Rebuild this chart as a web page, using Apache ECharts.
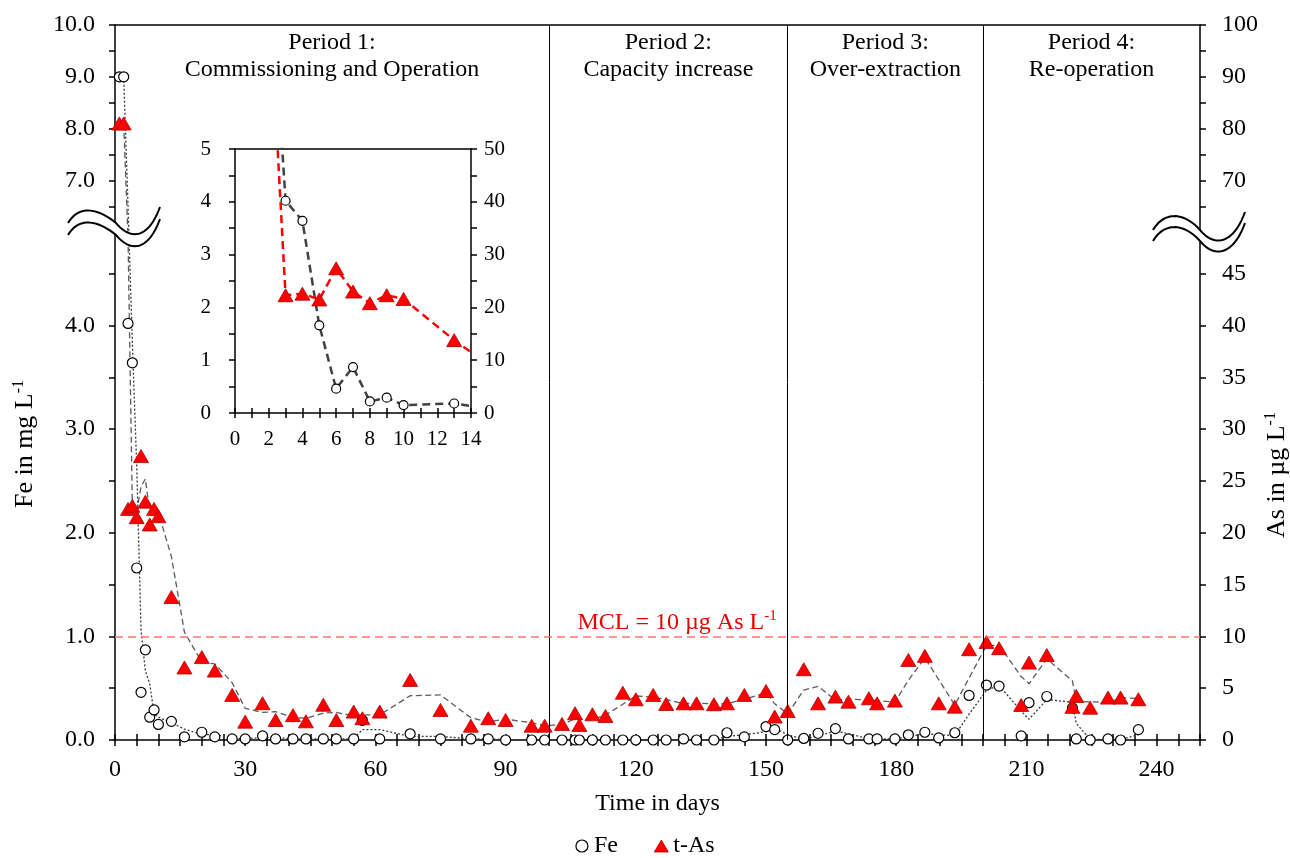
<!DOCTYPE html>
<html><head><meta charset="utf-8">
<script src="https://cdn.jsdelivr.net/npm/echarts@6/dist/echarts.min.js"></script>
<style>html,body{margin:0;padding:0;background:#fff}#c{width:1290px;height:858px}</style>
</head><body><div id="c"></div>
<script>
// ---------------- DATA ----------------
const days = [1, 2, 3, 4, 5, 6, 7, 8, 9, 10, 13, 16, 20, 23, 27, 30, 34, 37, 41, 44, 48, 51, 55, 57, 61, 68, 75, 82, 86, 90,
  96, 99, 103, 106, 107, 110, 113, 117, 120, 124, 127, 131, 134, 138, 141, 145, 150, 152, 155, 158.7,
  162, 166, 169, 173.7, 175.6, 179.7, 182.8, 186.6, 189.8, 193.5, 196.8, 200.8, 203.7, 208.8, 210.6, 214.7,
  220.6, 221.5, 224.7, 228.8, 231.7, 235.8];
const fe = [9.0, 9.0, 4.02, 3.64, 1.66, 0.46, 0.87, 0.22, 0.29, 0.15, 0.18, 0.03, 0.075, 0.03, 0.01, 0.01, 0.04, 0.01, 0.01, 0.01, 0.01, 0.01, 0.01, 0.19, 0.01, 0.06, 0.01, 0.01, 0.01, 0.0,
  0.0, 0.0, 0.0, 0.0, 0.0, 0.0, 0.0, 0.0, 0.0, 0.0, 0.0, 0.01, 0.0, 0.0, 0.07, 0.03, 0.13, 0.10, 0.0, 0.015,
  0.065, 0.11, 0.01, 0.01, 0.01, 0.01, 0.05, 0.075, 0.02, 0.07, 0.43, 0.53, 0.52, 0.04, 0.36, 0.42,
  0.31, 0.01, 0.0, 0.01, 0.0, 0.10];
const tAs = [81, 81, 22.3, 22.6, 21.5, 27.4, 23.0, 20.8, 22.3, 21.6, 13.8, 7.0, 8.0, 6.7, 4.35, 1.77, 3.55, 1.93, 2.4, 1.8, 3.4, 1.93, 2.74, 2.1, 2.74, 5.8, 2.9, 1.38, 2.1, 1.93,
  1.38, 1.38, 1.55, 2.58, 1.45, 2.48, 2.32, 4.57, 3.93, 4.35, 3.48, 3.54, 3.54, 3.45, 3.54, 4.35, 4.73, 2.26, 2.8, 6.83,
  3.54, 4.19, 3.7, 4.03, 3.54, 3.8, 7.73, 8.12, 3.54, 3.22, 8.76, 9.45, 8.86, 3.38, 7.47, 8.2,
  3.2, 4.25, 3.12, 4.09, 4.09, 3.93];
const xTickLabels = [0, 30, 60, 90, 120, 150, 180, 210, 240];
const feTickLabels = [0, 1, 2, 3, 4, 7, 8, 9, 10];
const asTickLabels = [0, 5, 10, 15, 20, 25, 30, 35, 40, 45, 70, 80, 90, 100];
const insetXTickLabels = [0, 2, 4, 6, 8, 10, 12, 14];
const insetFeTickLabels = [0, 1, 2, 3, 4, 5];
const insetAsTickLabels = [0, 10, 20, 30, 40, 50];
const periodNames = ['Period 1:\nCommissioning and Operation', 'Period 2:\nCapacity increase', 'Period 3:\nOver-extraction', 'Period 4:\nRe-operation'];
const periodStarts = [0, 100, 155, 200];
const periodEnds = [100, 155, 200, 250];
const MCL = 10;

// ---------------- HELPERS ----------------
const FONT = "'Liberation Serif','Times New Roman',serif";
// broken value axis: lower part linear, upper part compressed by factor 2
const BRK_LO = 4.8, BRK_HI = 6.2, BRK_TOP = 5.0, UP_K = 0.5;
function fwd(v) {
  if (v <= BRK_LO) return v;
  if (v >= BRK_HI) return BRK_TOP + UP_K * (v - BRK_HI);
  return BRK_LO + (v - BRK_LO) * (BRK_TOP - BRK_LO) / (BRK_HI - BRK_LO);
}
function inv(d) {
  if (d <= BRK_LO + 1e-9) return d;
  if (d >= BRK_TOP - 1e-9) return BRK_HI + (d - BRK_TOP) / UP_K;
  return BRK_LO + (d - BRK_LO) * (BRK_HI - BRK_LO) / (BRK_TOP - BRK_LO);
}
const D_MAX = fwd(10);
function range(a, b, s) { const r = []; for (let v = a; v <= b + 1e-9; v += s) r.push(Math.round(v * 1000) / 1000); return r; }
// Excel-style 2-period moving average trendline
function ma2(vals) { const out = []; for (let i = 1; i < vals.length; i++) out.push([days[i], (vals[i] + vals[i - 1]) / 2]); return out; }

const feTicks = range(0, 4.5, 0.5).concat(range(6.5, 10, 0.5)).map(fwd);
const asTicks = range(0, 45, 5).concat(range(65, 100, 5)).map(a => fwd(a / 10));

const axisLineStyle = { color: '#000', width: 1.5 };
const lblStyle = { fontSize: 24, fontFamily: FONT, color: '#000' };
const insetLbl = { fontSize: 21, fontFamily: FONT, color: '#000' };

// break symbol
function bez(p0, p1, p2, p3, n) {
  const pts = [];
  for (let i = 0; i <= n; i++) {
    const t = i / n, u = 1 - t;
    pts.push([u*u*u*p0[0] + 3*u*u*t*p1[0] + 3*u*t*t*p2[0] + t*t*t*p3[0],
              u*u*u*p0[1] + 3*u*u*t*p1[1] + 3*u*t*t*p2[1] + t*t*t*p3[1]]);
  }
  return pts;
}
function wave(segs, dy) {
  let pts = [];
  segs.forEach((s, k) => { const p = bez(...s.map(q => [q[0], q[1] + dy]), 24); pts = pts.concat(k ? p.slice(1) : p); });
  return pts;
}
function breakMark(segs, gap) {
  const up = wave(segs, 0), lo = wave(segs, gap);
  return [
    { type: 'polygon', shape: { points: up.concat(lo.slice().reverse()) }, style: { fill: '#fff', stroke: '#fff', lineWidth: 1 }, z: 100, silent: true },
    { type: 'polyline', shape: { points: up }, style: { stroke: '#000', lineWidth: 2, fill: 'none' }, z: 101, silent: true },
    { type: 'polyline', shape: { points: lo }, style: { stroke: '#000', lineWidth: 2, fill: 'none' }, z: 101, silent: true }
  ];
}
const leftBreak = breakMark([[[68, 223], [80, 203], [100, 210], [116, 223]], [[116, 223], [130, 240], [148, 240], [160, 207]]], 12);
const rightBreak = breakMark([[[1153, 230], [1165, 210], [1185, 213], [1200, 230]], [[1200, 230], [1214, 247], [1233, 245], [1245, 212]]], 11);

const supRich = (size, sup, color) => ({
  a: { fontSize: size, fontFamily: FONT, fill: color, color: color },
  s: { fontSize: sup, fontFamily: FONT, fill: color, color: color, padding: [0, 0, Math.round(size * 0.5), 0] }
});

const chart = echarts.init(document.getElementById('c'), null, { renderer: 'canvas' });
chart.setOption({
  animation: false,
  backgroundColor: '#fff',
  grid: [
    { left: 115, right: 90, top: 25, bottom: 118 },
    { left: 235, top: 149, width: 236, height: 264 }
  ],
  legend: {
    left: 'center', top: 829, itemGap: 36, itemWidth: 14, itemHeight: 12,
    textStyle: { fontSize: 24, fontFamily: FONT, color: '#000' },
    data: [
      { name: 'Fe', icon: 'circle', itemStyle: { color: '#fff', borderColor: '#000', borderWidth: 1.2, opacity: 1 } },
      { name: 't-As', icon: 'triangle', itemStyle: { color: '#ff0000', borderColor: '#b00000', borderWidth: 0.8, opacity: 1 } }
    ]
  },
  xAxis: [
    { type: 'value', gridIndex: 0, min: 0, max: 250, position: 'bottom',
      axisLine: { show: true, onZero: false, lineStyle: axisLineStyle },
      axisTick: { show: true, customValues: range(0, 250, 5), length: 6, lineStyle: axisLineStyle },
      axisLabel: Object.assign({ customValues: xTickLabels, margin: 18 }, lblStyle),
      splitLine: { show: false },
      name: 'Time in days', nameLocation: 'middle', nameGap: 52, nameTextStyle: lblStyle },
    { type: 'value', gridIndex: 0, min: 0, max: 250, position: 'bottom',
      axisLine: { show: false }, axisTick: { show: true, inside: true, customValues: range(0, 250, 5), length: 6, lineStyle: axisLineStyle },
      axisLabel: { show: false }, splitLine: { show: false } },
    { type: 'value', gridIndex: 0, min: 0, max: 250, position: 'top',
      axisLine: { show: true, onZero: false, lineStyle: axisLineStyle }, axisTick: { show: false },
      axisLabel: { show: false }, splitLine: { show: false } },
    { type: 'value', gridIndex: 1, min: 0, max: 14, position: 'bottom',
      axisLine: { show: true, onZero: false, lineStyle: axisLineStyle },
      axisTick: { show: true, customValues: range(0, 14, 1), length: 5, lineStyle: axisLineStyle },
      axisLabel: Object.assign({ customValues: insetXTickLabels, margin: 16 }, insetLbl),
      splitLine: { show: false } },
    { type: 'value', gridIndex: 1, min: 0, max: 14, position: 'bottom',
      axisLine: { show: false }, axisTick: { show: true, inside: true, customValues: range(0, 14, 1), length: 5, lineStyle: axisLineStyle },
      axisLabel: { show: false }, splitLine: { show: false } },
    { type: 'value', gridIndex: 1, min: 0, max: 14, position: 'top',
      axisLine: { show: true, onZero: false, lineStyle: axisLineStyle }, axisTick: { show: false },
      axisLabel: { show: false }, splitLine: { show: false } }
  ],
  yAxis: [
    { type: 'value', gridIndex: 0, min: 0, max: D_MAX, position: 'left',
      axisLine: { show: true, onZero: false, lineStyle: axisLineStyle },
      axisTick: { show: true, customValues: feTicks, length: 6, lineStyle: axisLineStyle },
      axisLabel: Object.assign({ customValues: feTickLabels.map(fwd), margin: 20, formatter: v => inv(v).toFixed(1) }, lblStyle),
      splitLine: { show: false } },
    { type: 'value', gridIndex: 0, min: 0, max: D_MAX, position: 'right',
      axisLine: { show: true, onZero: false, lineStyle: axisLineStyle },
      axisTick: { show: true, customValues: asTicks, length: 6, lineStyle: axisLineStyle },
      axisLabel: Object.assign({ customValues: asTickLabels.map(a => fwd(a / 10)), margin: 22, formatter: v => String(Math.round(inv(v) * 10)) }, lblStyle),
      splitLine: { show: false } },
    { type: 'value', gridIndex: 1, min: 0, max: 5, position: 'left',
      axisLine: { show: true, onZero: false, lineStyle: axisLineStyle },
      axisTick: { show: true, customValues: range(0, 5, 0.5), length: 6, lineStyle: axisLineStyle },
      axisLabel: Object.assign({ customValues: insetFeTickLabels, margin: 24 }, insetLbl),
      splitLine: { show: false } },
    { type: 'value', gridIndex: 1, min: 0, max: 50, position: 'right',
      axisLine: { show: true, onZero: false, lineStyle: axisLineStyle },
      axisTick: { show: true, customValues: range(0, 50, 5), length: 6, lineStyle: axisLineStyle },
      axisLabel: Object.assign({ customValues: insetAsTickLabels, margin: 13 }, insetLbl),
      splitLine: { show: false } }
  ],
  series: [
    { name: 'Fe trend', type: 'line', xAxisIndex: 0, yAxisIndex: 0, silent: true, clip: false,
      data: ma2(fe).map(p => [p[0], fwd(p[1])]), symbol: 'none',
      lineStyle: { color: '#3a3a3a', width: 1.3, type: [2, 2] }, z: 2,
      markLine: { silent: true, symbol: 'none', label: { show: false },
        lineStyle: { color: '#000', width: 1, type: 'solid' },
        data: periodStarts.slice(1).map(x => ({ xAxis: x })) },
      markArea: { silent: true, itemStyle: { color: 'rgba(0,0,0,0)' },
        label: { show: true, position: 'insideTop', distance: 4, color: '#000', fontSize: 24, lineHeight: 27, fontFamily: FONT, formatter: p => p.name },
        data: periodNames.map((n, i) => [{ name: n, xAxis: periodStarts[i] }, { xAxis: periodEnds[i] }]) } },
    { name: 't-As trend', type: 'line', xAxisIndex: 0, yAxisIndex: 1, silent: true, clip: false,
      data: ma2(tAs).map(p => [p[0], fwd(p[1] / 10)]), symbol: 'none',
      lineStyle: { color: '#5a5a5a', width: 1.3, type: [6, 3.5] }, z: 2 },
    { name: 'Fe', type: 'scatter', xAxisIndex: 0, yAxisIndex: 0, silent: true, clip: false,
      data: days.map((d, i) => [d, fwd(fe[i])]), symbol: 'circle', symbolSize: 10,
      itemStyle: { color: '#fff', borderColor: '#000', borderWidth: 1.2, opacity: 1 }, z: 3 },
    { name: 't-As', type: 'scatter', xAxisIndex: 0, yAxisIndex: 1, silent: true, clip: false,
      data: days.map((d, i) => [d, fwd(tAs[i] / 10)]), symbol: 'triangle', symbolSize: [15, 13],
      itemStyle: { color: '#ff0000', borderColor: '#b00000', borderWidth: 0.8, opacity: 1 }, z: 4,
      markLine: { silent: true, symbol: 'none', label: { show: false },
        lineStyle: { color: '#ff7474', width: 1.5, type: [8, 5] },
        data: [{ yAxis: fwd(MCL / 10) }] },
      markPoint: { silent: true,
        data: [{ coord: [129.5, fwd(MCL / 10)], symbol: 'rect', symbolSize: 1, itemStyle: { color: 'rgba(0,0,0,0)' },
          label: { show: true, position: 'top', distance: 0, formatter: '{a|MCL = 10 µg As L}{s|-1}', rich: supRich(24, 15, '#e60000') } }] } },
    { name: 'Fe inset', type: 'line', xAxisIndex: 3, yAxisIndex: 2, silent: true, clip: true,
      data: days.map((d, i) => [d, fe[i]]), symbol: 'circle', symbolSize: 9, showAllSymbol: true,
      itemStyle: { color: '#fff', borderColor: '#000', borderWidth: 1.2, opacity: 1 },
      lineStyle: { color: '#404040', width: 2.5, type: [8, 5] }, z: 5 },
    { name: 'As inset', type: 'line', xAxisIndex: 3, yAxisIndex: 3, silent: true, clip: true,
      data: days.map((d, i) => [d, tAs[i]]), symbol: 'triangle', symbolSize: [15, 13], showAllSymbol: true,
      itemStyle: { color: '#ff0000', borderColor: '#b00000', borderWidth: 0.8, opacity: 1 },
      lineStyle: { color: '#ff0000', width: 2.5, type: [8, 5] }, z: 6 }
  ],
  graphic: leftBreak.concat(rightBreak).concat([
    { type: 'text', x: 25, y: 444, rotation: Math.PI / 2, z: 100, silent: true,
      style: { text: '{a|Fe in mg L}{s|-1}', rich: supRich(26, 16, '#000'), align: 'center', verticalAlign: 'middle' } },
    { type: 'text', x: 1277, y: 475, rotation: Math.PI / 2, z: 100, silent: true,
      style: { text: '{a|As in µg L}{s|-1}', rich: supRich(26, 16, '#000'), align: 'center', verticalAlign: 'middle' } }
  ])
});
</script>
</body></html>
